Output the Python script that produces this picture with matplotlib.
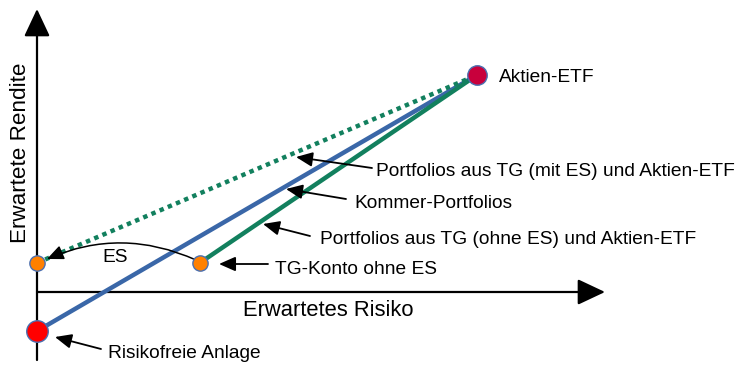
import matplotlib
matplotlib.use("Agg")
import matplotlib.pyplot as plt

plt.rcParams['font.family'] = ['Liberation Sans', 'DejaVu Sans']

# ---- data (abstract risk / return units) ----
point_names = ["Aktien-ETF", "Risikofreie Anlage", "TG-Konto ohne ES", "TG mit ES"]
point_risk = [10.0, 0.0, 3.70, 0.0]
point_return = [10.0, -1.80, 1.34, 1.34]
point_colors = ["#C8003C", "#FF0000", "#FF8000", "#FF8000"]
point_sizes = [14, 15.5, 11, 11]

line_labels = ["Kommer-Portfolios",
               "Portfolios aus TG (ohne ES) und Aktien-ETF",
               "Portfolios aus TG (mit ES) und Aktien-ETF"]
line_start = [1, 2, 3]   # index into points, each line ends at Aktien-ETF
line_colors = ["#3A67A8", "#12805E", "#12805E"]
line_styles = ["-", "-", (0, (1, 1))]

x_label = "Erwartetes Risiko"
y_label = "Erwartete Rendite"

# ---- layout helpers (pixel -> data) ----
W, H = 745, 366
X0, Y0, SX, SY = 37, 292, 44.0, 21.7
def P(px, py):
    return ((px - X0) / SX, (Y0 - py) / SY)

fig = plt.figure(figsize=(W / 100, H / 100), dpi=100)
ax = fig.add_axes([0, 0, 1, 1])
ax.set_xlim(P(0, 0)[0], P(W, 0)[0])
ax.set_ylim(P(0, H)[1], P(0, 0)[1])
ax.axis("off")

# axes with arrows
axis_arrow = dict(arrowstyle="-|>,head_length=0.85,head_width=0.4",
                  lw=1.6, color="black", mutation_scale=20,
                  shrinkA=0, shrinkB=0)
ax.annotate("", xy=(0, P(0, 9)[1]), xytext=(0, P(0, 360)[1]), arrowprops=axis_arrow)
ax.annotate("", xy=(P(605, 0)[0], 0), xytext=(0, 0), arrowprops=axis_arrow)

ax.text(*P(328, 311), x_label, fontsize=15.8, ha="center", va="center")
ax.text(*P(20, 153), y_label, fontsize=16.2, ha="center", va="center", rotation=90)

# lines
for s, c, ls in zip(line_start, line_colors, line_styles):
    ax.plot([point_risk[s], point_risk[0]], [point_return[s], point_return[0]],
            color=c, lw=3.2, ls=ls, solid_capstyle="butt", dash_capstyle="butt",
            zorder=3)

# points
for x, y, c, ms in zip(point_risk, point_return, point_colors, point_sizes):
    ax.plot(x, y, "o", color=c, ms=ms, mec="#4A6FB0", mew=1, zorder=5)

# annotations
arrow = dict(arrowstyle="-|>,head_length=0.5,head_width=0.22", lw=1.3,
             color="black", mutation_scale=20, shrinkA=0, shrinkB=0)
fs = 13.8
ax.text(*P(499, 77), point_names[0], fontsize=fs, ha="left", va="center")

ax.text(*P(376, 172), line_labels[2], fontsize=fs, ha="left", va="center")
ax.annotate("", xy=P(296, 157), xytext=P(372, 168), arrowprops=arrow)

ax.text(*P(354, 204), line_labels[0], fontsize=fs, ha="left", va="center")
ax.annotate("", xy=P(286, 189), xytext=P(346, 199), arrowprops=arrow)

ax.text(*P(320, 240), line_labels[1], fontsize=fs, ha="left", va="center")
ax.annotate("", xy=P(263, 224), xytext=P(310, 236), arrowprops=arrow)

ax.text(*P(275, 269), point_names[2], fontsize=fs, ha="left", va="center")
ax.annotate("", xy=P(219, 264), xytext=P(268, 264), arrowprops=arrow)

ax.text(*P(108, 353), point_names[1], fontsize=fs, ha="left", va="center")
ax.annotate("", xy=P(55, 337), xytext=P(101, 349), arrowprops=arrow)

ax.text(*P(115, 257), "ES", fontsize=fs, ha="center", va="center")
ax.annotate("", xy=P(47, 259), xytext=P(196, 260),
            arrowprops=dict(arrowstyle="-|>,head_length=0.5,head_width=0.22",
                            lw=1.1, color="black", mutation_scale=20,
                            shrinkA=0, shrinkB=0,
                            connectionstyle="arc3,rad=0.22"))

fig.savefig("out.png", dpi=100)
